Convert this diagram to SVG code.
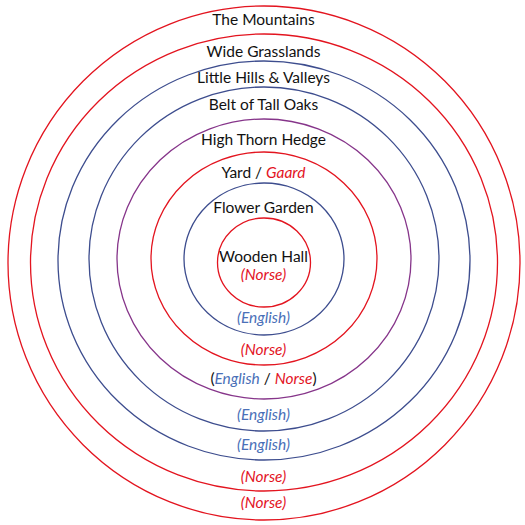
<svg xmlns="http://www.w3.org/2000/svg" width="525" height="525" viewBox="0 0 525 525">
<style>
.r{fill:none;stroke:#e3141f;stroke-width:1.3}
.b{fill:none;stroke:#3d4d8e;stroke-width:1.3}
.p{fill:none;stroke:#86358a;stroke-width:1.3}
text{font-family:Lato,"Open Sans",sans-serif;font-size:15.5px;fill:#111;text-anchor:middle}
.ni{fill:#e3141f;font-style:italic}
.ei{fill:#4a70b8;font-style:italic}
</style>
<rect width="525" height="525" fill="#fff"/>
<g id="rings">
<ellipse id="mountains" class="r" cx="264" cy="263" rx="256" ry="257"/>
<ellipse id="grasslands" class="r" cx="264" cy="262.5" rx="233.5" ry="228.5"/>
<ellipse id="hills" class="b" cx="264" cy="260.5" rx="206" ry="199.5"/>
<ellipse id="oaks" class="b" cx="264" cy="259" rx="175" ry="172"/>
<ellipse id="hedge" class="p" cx="264" cy="259" rx="147" ry="140"/>
<ellipse id="yard" class="r" cx="264" cy="258.5" rx="113" ry="106.5"/>
<ellipse id="garden" class="b" cx="264" cy="259" rx="80" ry="76"/>
<ellipse id="hall" class="r" cx="264" cy="262.5" rx="46.5" ry="44.5"/>
</g>
<g id="labels">
<text x="263.5" y="25">The Mountains</text>
<text x="263.5" y="57">Wide Grasslands</text>
<text x="263.5" y="83">Little Hills &amp; Valleys</text>
<text x="263.5" y="110">Belt of Tall Oaks</text>
<text x="263.5" y="145">High Thorn Hedge</text>
<text x="263.5" y="178">Yard / <tspan class="ni">Gaard</tspan></text>
<text x="263.5" y="213">Flower Garden</text>
<text x="263.5" y="262">Wooden Hall</text>
<text x="263.5" y="280" class="ni">(Norse)</text>
<text x="263.5" y="323" class="ei">(English)</text>
<text x="263.5" y="355" class="ni">(Norse)</text>
<text x="263.5" y="384">(<tspan class="ei">English</tspan> / <tspan class="ni">Norse</tspan>)</text>
<text x="263.5" y="420" class="ei">(English)</text>
<text x="263.5" y="450" class="ei">(English)</text>
<text x="263.5" y="482" class="ni">(Norse)</text>
<text x="263.5" y="508" class="ni">(Norse)</text>
</g>
</svg>
